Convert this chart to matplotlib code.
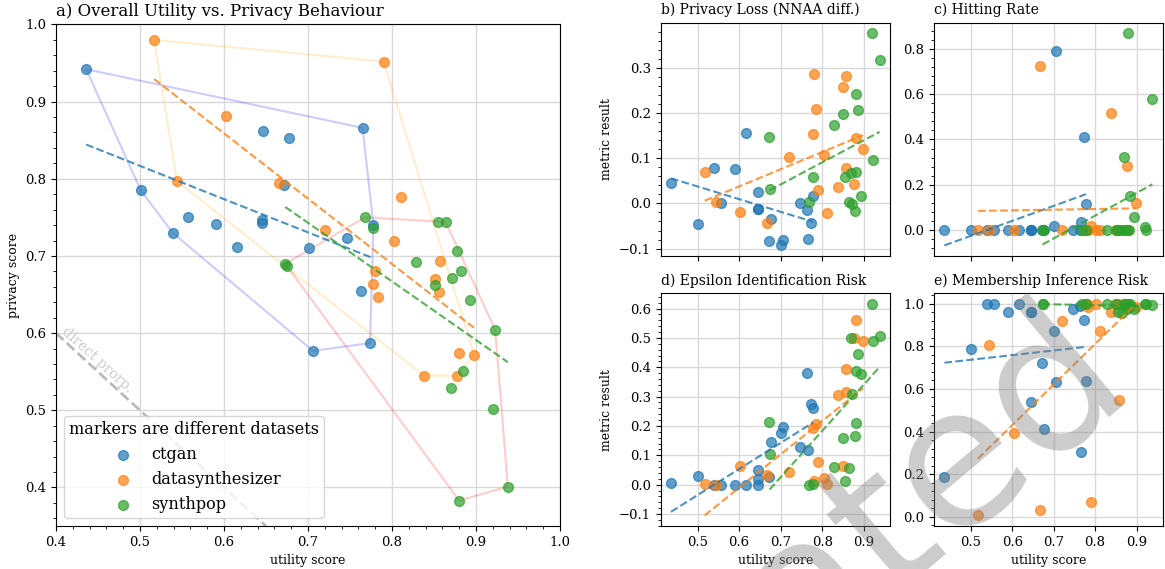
import numpy as np
import matplotlib
matplotlib.use('Agg')
import matplotlib.pyplot as plt
from matplotlib.ticker import MultipleLocator, AutoMinorLocator

plt.rcParams['font.family'] = 'serif'
plt.rcParams['font.serif'] = ['DejaVu Serif']

generators = ['ctgan', 'datasynthesizer', 'synthpop']
colors = ['tab:blue', 'tab:orange', 'tab:green']
hull_colors = ['blue', 'orange', 'red']

# ctgan, one value per dataset
ctgan_utility = [0.436, 0.501, 0.539, 0.557, 0.590, 0.616, 0.646, 0.645, 0.645,
                 0.672, 0.677, 0.701, 0.706, 0.747, 0.763, 0.765, 0.774, 0.778]
ctgan_privacy = [0.942, 0.785, 0.730, 0.750, 0.741, 0.711, 0.862, 0.747, 0.743,
                 0.792, 0.853, 0.710, 0.577, 0.723, 0.654, 0.866, 0.587, 0.740]
ctgan_nnaa = [0.045, -0.046, 0.079, 0.000, 0.075, 0.156, 0.026, -0.012, -0.012,
              -0.083, -0.034, -0.093, -0.080, 0.000, -0.015, -0.079, -0.043, 0.016]
ctgan_hitting = [0.0, 0.0, 0.0, 0.0, 0.0, 0.0, 0.0, 0.0, 0.0,
                 0.0, 0.0, 0.018, 0.790, 0.0, 0.0, 0.038, 0.410, 0.117]
ctgan_epsilon = [0.007, 0.030, 0.0, 0.0, 0.0, 0.0, 0.051, 0.018, 0.0,
                 0.025, 0.144, 0.176, 0.197, 0.130, 0.381, 0.119, 0.274, 0.262]
ctgan_mia = [0.185, 0.786, 1.0, 1.0, 0.962, 1.0, 0.964, 0.964, 0.538,
             0.723, 0.410, 0.873, 0.632, 0.978, 0.990, 0.304, 0.926, 0.638]

# datasynthesizer
ds_utility = [0.517, 0.544, 0.603, 0.666, 0.720, 0.777, 0.780, 0.784, 0.790,
              0.803, 0.811, 0.838, 0.851, 0.856, 0.857, 0.877, 0.880, 0.898]
ds_privacy = [0.980, 0.797, 0.882, 0.794, 0.733, 0.664, 0.681, 0.647, 0.952,
              0.719, 0.776, 0.545, 0.670, 0.653, 0.694, 0.545, 0.574, 0.572]
ds_nnaa = [0.069, 0.003, -0.020, -0.044, 0.103, 0.154, 0.286, 0.209, 0.030,
           0.107, -0.021, 0.036, 0.257, 0.078, 0.282, 0.042, 0.145, 0.120]
ds_hitting = [0.0, 0.0, 0.0, 0.725, 0.0, 0.0, 0.0, 0.0, 0.019,
              0.0, 0.0, 0.515, 0.0, 0.0, 0.0, 0.285, 0.0, 0.120]
ds_epsilon = [0.003, 0.0, 0.062, 0.032, 0.044, 0.194, 0.011, 0.207, 0.076,
              0.023, 0.003, 0.305, 0.064, 0.315, 0.393, 0.500, 0.562, 0.490]
ds_mia = [0.006, 0.808, 0.391, 0.030, 0.920, 1.0, 1.0, 0.985, 0.069,
          1.0, 0.872, 0.962, 1.0, 1.0, 0.548, 1.0, 0.990, 0.985]

# synthpop
sp_utility = [0.673, 0.675, 0.768, 0.777, 0.829, 0.851, 0.855, 0.864, 0.870,
              0.872, 0.878, 0.880, 0.882, 0.885, 0.893, 0.920, 0.923, 0.938]
sp_privacy = [0.690, 0.687, 0.750, 0.736, 0.692, 0.662, 0.744, 0.744, 0.529,
              0.671, 0.706, 0.383, 0.681, 0.551, 0.643, 0.501, 0.604, 0.401]
sp_nnaa = [0.146, 0.031, 0.002, 0.058, 0.173, 0.197, 0.058, 0.002, 0.068,
           -0.002, -0.016, 0.242, 0.069, 0.207, 0.017, 0.376, 0.096, 0.317]
sp_hitting = [0.0, 0.0, 0.0, 0.0, 0.0, 0.0, 0.0, 0.0, 0.323,
              0.0, 0.0, 0.868, 0.0, 0.149, 0.056, 0.012, 0.0, 0.578]
sp_epsilon = [0.212, 0.104, 0.0, 0.002, 0.061, 0.158, 0.011, 0.058, 0.500,
              0.309, 0.166, 0.386, 0.211, 0.445, 0.377, 0.616, 0.490, 0.508]
sp_mia = [1.0, 1.0, 1.0, 1.0, 1.0, 1.0, 0.962, 0.958, 1.0,
          1.0, 0.976, 1.0, 0.985, 1.0, 0.978, 1.0, 1.0, 0.995]

utility = [ctgan_utility, ds_utility, sp_utility]
privacy = [ctgan_privacy, ds_privacy, sp_privacy]
metrics = [
    ('b) Privacy Loss (NNAA diff.)', [ctgan_nnaa, ds_nnaa, sp_nnaa]),
    ('c) Hitting Rate', [ctgan_hitting, ds_hitting, sp_hitting]),
    ('d) Epsilon Identification Risk', [ctgan_epsilon, ds_epsilon, sp_epsilon]),
    ('e) Membership Inference Risk', [ctgan_mia, ds_mia, sp_mia]),
]


def convex_hull(xs, ys):
    pts = sorted(set(zip(xs, ys)))

    def cross(o, a, b):
        return (a[0] - o[0]) * (b[1] - o[1]) - (a[1] - o[1]) * (b[0] - o[0])

    lower, upper = [], []
    for p in pts:
        while len(lower) >= 2 and cross(lower[-2], lower[-1], p) <= 0:
            lower.pop()
        lower.append(p)
    for p in reversed(pts):
        while len(upper) >= 2 and cross(upper[-2], upper[-1], p) <= 0:
            upper.pop()
        upper.append(p)
    hull = lower[:-1] + upper[:-1]
    hull.append(hull[0])
    return np.array(hull)


def trend(ax, x, y, color):
    x = np.asarray(x)
    k, b = np.polyfit(x, y, 1)
    xs = np.array([x.min(), x.max()])
    ax.plot(xs, k * xs + b, '--', color=color, lw=1.5, alpha=0.8, zorder=3)


def style(ax):
    ax.grid(True, color='0.85', lw=1.0)
    ax.set_axisbelow(True)
    ax.tick_params(labelsize=9.5)


fig = plt.figure(figsize=(11.65, 5.69), dpi=100)

# a) overall
ax = fig.add_axes([0.048, 0.0756, 0.4326, 0.8814])
style(ax)
for i in range(3):
    h = convex_hull(utility[i], privacy[i])
    ax.plot(h[:, 0], h[:, 1], color=hull_colors[i], alpha=0.2, lw=1.5, zorder=1)
    ax.scatter(utility[i], privacy[i], s=50, color=colors[i], alpha=0.7,
               label=generators[i], zorder=2)
    trend(ax, utility[i], privacy[i], colors[i])
ref_x = np.array([0.4, 0.65])
ax.plot(ref_x, 1 - ref_x, '--', color='#bbbbbb', lw=2, zorder=1)
ax.text(0.404, 0.598, 'direct prorp.', rotation=-42, rotation_mode='anchor',
        ha='left', va='bottom', color='#cccccc', fontsize=10)
ax.set_xlim(0.4, 1.0)
ax.set_ylim(0.35, 1.0)
ax.xaxis.set_major_locator(MultipleLocator(0.1))
ax.xaxis.set_minor_locator(MultipleLocator(0.02))
ax.yaxis.set_major_locator(MultipleLocator(0.1))
ax.yaxis.set_minor_locator(MultipleLocator(0.02))
ax.set_xlabel('utility score', fontsize=9)
ax.set_ylabel('privacy score', fontsize=9)
ax.set_title('a) Overall Utility vs. Privacy Behaviour', loc='left', fontsize=12)
ax.legend(title='markers are different datasets', loc='lower left',
          fontsize=11.6, title_fontsize=11.6, framealpha=0.8, borderpad=0.3)

# b) - e)
rects = [[0.567, 0.550, 0.197, 0.410], [0.8017, 0.550, 0.1963, 0.410],
         [0.567, 0.0756, 0.197, 0.409], [0.8017, 0.0756, 0.1963, 0.409]]
axes = []
for j, (title, values) in enumerate(metrics):
    sub = fig.add_axes(rects[j], sharex=axes[0] if axes else None)
    axes.append(sub)
    style(sub)
    for i in range(3):
        sub.scatter(utility[i], values[i], s=50, color=colors[i], alpha=0.7, zorder=2)
        trend(sub, utility[i], values[i], colors[i])
    sub.yaxis.set_minor_locator(AutoMinorLocator(5))
    sub.set_title(title, loc='left', fontsize=10)
    if j in (0, 2):
        sub.set_ylabel('metric result', fontsize=9)
    if j < 2:
        sub.tick_params(labelbottom=False)
    else:
        sub.set_xlabel('utility score', fontsize=9)
axes[0].xaxis.set_major_locator(MultipleLocator(0.1))

# watermark
fig.text(0.9725, 0.330, 'Deprecated', fontsize=140, color='gray', alpha=0.4,
         rotation=40, rotation_mode='anchor', ha='right', va='baseline',
         family='DejaVu Sans', zorder=10)

fig.savefig('out.png', dpi=100)
